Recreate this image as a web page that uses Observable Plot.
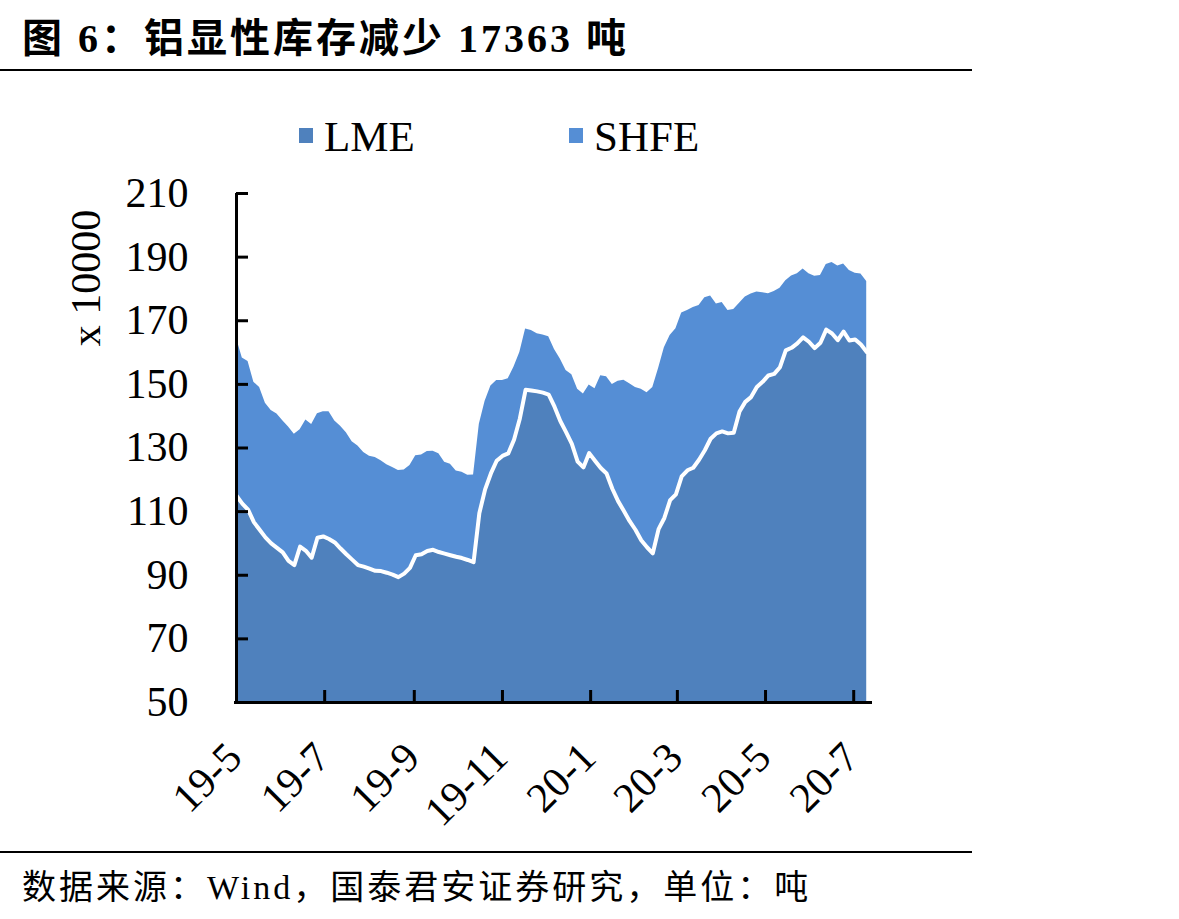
<!DOCTYPE html>
<html>
<head>
<meta charset="utf-8">
<script src="https://cdn.jsdelivr.net/npm/d3@7"></script>
<script src="https://cdn.jsdelivr.net/npm/@observablehq/plot@0.6"></script>
<style>
  html, body { margin: 0; padding: 0; background: #fff; }
  body { width: 1179px; height: 919px; position: relative; overflow: hidden;
         font-family: "Liberation Serif", "Noto Sans CJK SC", serif; color: #000; }
  #title { position: absolute; left: 22px; top: 6px; font-size: 40px; font-weight: bold;
           letter-spacing: 3px; white-space: nowrap; font-family: "Liberation Serif", "Noto Sans CJK SC", serif; }
  .rule { position: absolute; left: 0; width: 972px; height: 2px; background: #000; }
  #legend { position: absolute; left: 0; top: 112px; width: 972px; height: 50px; }
  .lg-item { position: absolute; top: 0; font-size: 43px; line-height: normal; white-space: nowrap; }
  .lg-swatch { position: absolute; width: 14px; height: 15px; top: 16px; }
  #chart { position: absolute; left: 0; top: 170px; }
  #chart svg { overflow: visible; }
  #caption { position: absolute; left: 22px; top: 860px; font-size: 34px; letter-spacing: 3px;
             white-space: nowrap; font-family: "Liberation Serif", "Noto Sans CJK SC", serif; }
</style>
</head>
<body>
<div id="title"></div>
<div class="rule" style="top:69px"></div>
<div id="legend"></div>
<div id="chart"></div>
<div class="rule" style="top:851px"></div>
<div id="caption"></div>
<script>
// ---------- data ----------
const titleText = "图 6：铝显性库存减少 17363 吨";
const captionText = "数据来源：Wind，国泰君安证券研究，单位：吨";
const yLabel = "x 10000";
const seriesNames = ["LME", "SHFE"];
const seriesColors = ["#4F81BD", "#558ED5"];

const dates = [
  "2019-05-01","2019-05-05","2019-05-09","2019-05-13","2019-05-17","2019-05-21","2019-05-25","2019-05-29","2019-06-02","2019-06-06",
  "2019-06-10","2019-06-14","2019-06-18","2019-06-22","2019-06-26","2019-06-30","2019-07-04","2019-07-08","2019-07-12","2019-07-16",
  "2019-07-20","2019-07-24","2019-07-28","2019-08-01","2019-08-05","2019-08-09","2019-08-13","2019-08-17","2019-08-21","2019-08-25",
  "2019-08-29","2019-09-02","2019-09-06","2019-09-10","2019-09-14","2019-09-18","2019-09-22","2019-09-26","2019-09-30","2019-10-04",
  "2019-10-08","2019-10-12","2019-10-16","2019-10-20","2019-10-24","2019-10-28","2019-11-01","2019-11-05","2019-11-09","2019-11-13",
  "2019-11-17","2019-11-21","2019-11-25","2019-11-29","2019-12-03","2019-12-07","2019-12-11","2019-12-15","2019-12-19","2019-12-23",
  "2019-12-27","2019-12-31","2020-01-04","2020-01-08","2020-01-12","2020-01-16","2020-01-20","2020-01-24","2020-01-28","2020-02-01",
  "2020-02-05","2020-02-09","2020-02-13","2020-02-17","2020-02-21","2020-02-25","2020-02-29","2020-03-04","2020-03-08","2020-03-12",
  "2020-03-16","2020-03-20","2020-03-24","2020-03-28","2020-04-01","2020-04-05","2020-04-09","2020-04-13","2020-04-17","2020-04-21",
  "2020-04-25","2020-04-29","2020-05-03","2020-05-07","2020-05-11","2020-05-15","2020-05-19","2020-05-23","2020-05-27","2020-05-31",
  "2020-06-04","2020-06-08","2020-06-12","2020-06-16","2020-06-20","2020-06-24","2020-06-28","2020-07-02","2020-07-06","2020-07-10"
];

// LME stocks (x 10000 t)
const lme = [
  115.0,112.5,110.6,106.7,104.3,101.9,100.0,98.6,97.2,94.5,
  93.2,99.0,97.7,95.5,101.8,102.2,101.4,100.3,98.4,96.6,
  94.9,93.2,92.7,92.1,91.4,91.3,90.8,90.2,89.4,90.5,
  92.3,96.3,96.6,97.6,98.0,97.3,96.8,96.3,95.8,95.4,
  94.8,94.1,109.5,117.0,122.0,126.0,127.5,128.3,132.6,139.2,
  148.3,148.1,147.8,147.4,146.8,143.0,138.5,135.0,131.3,125.7,
  123.9,128.4,126.0,123.7,122.0,117.2,113.3,110.2,107.0,104.3,
  101.0,98.8,96.9,104.5,108.0,113.6,115.4,121.1,123.0,123.8,
  126.3,129.3,132.9,134.6,135.2,134.6,134.8,141.5,144.5,146.0,
  149.2,150.8,152.8,153.3,155.4,160.7,161.5,162.9,164.8,163.4,
  161.4,163.1,167.2,166.0,163.9,166.6,163.8,164.1,162.5,160.2
];

// SHFE stocks (x 10000 t), stacked on LME
const shfe = [
  49.5,45.8,46.6,44.0,44.7,42.2,41.8,42.1,41.4,42.1,
  41.1,36.7,41.1,41.9,39.0,39.2,40.0,38.2,38.4,38.2,
  37.1,37.4,35.9,35.3,35.6,34.7,33.9,33.7,33.5,32.6,
  32.2,31.3,31.2,31.3,31.0,30.9,28.7,28.6,27.0,27.0,
  26.6,27.4,28.0,27.7,27.5,25.2,23.7,23.5,22.9,20.8,
  19.1,18.8,18.1,18.1,18.2,18.0,19.5,19.4,21.7,22.8,
  23.1,21.4,22.6,29.0,30.4,32.8,37.7,41.1,43.2,44.7,
  47.5,48.6,52.1,50.5,53.5,51.8,52.1,51.3,50.2,50.4,
  48.5,47.9,44.9,40.7,40.5,38.6,38.7,34.0,33.0,32.4,
  29.8,28.0,25.7,25.9,24.8,21.9,22.6,21.9,21.5,21.4,
  22.6,21.1,20.5,22.3,23.3,21.2,22.0,20.8,22.2,22.1
];

const yTicks = [50, 70, 90, 110, 130, 150, 170, 190, 210];
const xTickDates = ["2019-05-01","2019-07-01","2019-09-01","2019-11-01","2020-01-01","2020-03-01","2020-05-01","2020-07-01"];
const xTickLabels = ["19-5","19-7","19-9","19-11","20-1","20-3","20-5","20-7"];
const xDomain = ["2019-05-01", "2020-07-14"];
const yDomain = [50, 210];

// ---------- build ----------
document.getElementById("title").textContent = titleText;
document.getElementById("caption").textContent = captionText;

const legend = document.getElementById("legend");
const legendPos = [299, 569];
seriesNames.forEach((name, i) => {
  const sw = document.createElement("div");
  sw.className = "lg-swatch";
  sw.style.left = legendPos[i] + "px";
  sw.style.background = seriesColors[i];
  legend.appendChild(sw);
  const t = document.createElement("div");
  t.className = "lg-item";
  t.style.left = (legendPos[i] + 25) + "px";
  t.textContent = name;
  legend.appendChild(t);
});

const parse = d3.utcParse("%Y-%m-%d");
const rows = dates.map((d, i) => ({date: parse(d), LME: lme[i], SHFE: shfe[i]}));
const long = [];
for (const s of seriesNames) for (const r of rows) long.push({date: r.date, series: s, value: r[s]});
const tickDates = xTickDates.map(parse);
const tickLabelOf = new Map(tickDates.map((d, i) => [+d, xTickLabels[i]]));
const x0 = parse(xDomain[0]);

const chart = Plot.plot({
  width: 972,
  height: 678,
  marginTop: 23,
  marginBottom: 146,
  marginLeft: 236,
  marginRight: 100,
  style: {fontFamily: "Liberation Serif, serif", fontSize: "42px", color: "#000", background: "transparent", overflow: "visible"},
  x: {type: "utc", domain: xDomain.map(parse), axis: null},
  y: {domain: yDomain, axis: null},
  color: {domain: seriesNames, range: seriesColors},
  marks: [
    Plot.areaY(long, {x: "date", y: "value", fill: "series", z: "series", clip: true}),
    Plot.lineY(rows, {x: "date", y: "LME", stroke: "white", strokeWidth: 4, strokeLinejoin: "round", clip: true}),
    // y axis: labels
    Plot.axisY({ticks: yTicks, tickSize: 0, tickPadding: 48, fontSize: 42, label: null}),
    // y axis: inward tick marks
    Plot.axisY({ticks: yTicks, tickSize: -12, tickFormat: () => "", strokeWidth: 3, label: null}),
    // x axis: inward tick marks
    Plot.axisX({ticks: tickDates, tickSize: -12, tickFormat: () => "", strokeWidth: 3, label: null}),
    // x axis labels, rotated
    Plot.text(tickDates, {x: d => d, text: d => tickLabelOf.get(+d), frameAnchor: "bottom",
      rotate: -45, textAnchor: "end", lineAnchor: "middle", dx: -2, dy: 48, fontSize: 42}),
    // axis lines
    Plot.ruleX([x0], {stroke: "#000", strokeWidth: 3}),
    Plot.ruleY([yDomain[0]], {stroke: "#000", strokeWidth: 3, insetLeft: -2}),
    // y axis title
    Plot.text([yLabel], {frameAnchor: "left", rotate: -90, textAnchor: "middle", lineAnchor: "middle",
      dx: -150, dy: -170, fontSize: 42})
  ]
});
document.getElementById("chart").appendChild(chart);
</script>
</body>
</html>
